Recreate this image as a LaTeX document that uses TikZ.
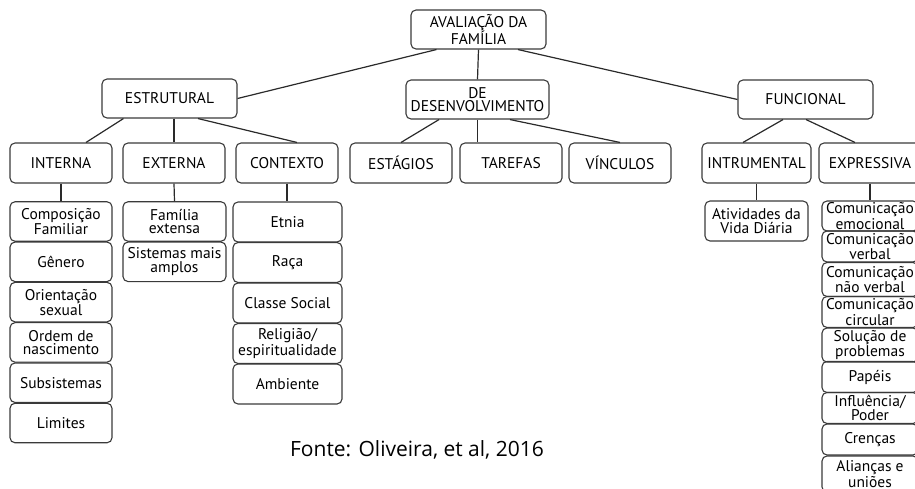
\documentclass[tikz,border=0pt]{standalone}
\usepackage{fontspec}
\setmainfont{PT Sans}
\newfontfamily\fontefont{Open Sans}
\definecolor{boxc}{HTML}{3A3A3A}
\definecolor{linec}{HTML}{2A2A2A}
\begin{document}
\begin{tikzpicture}[x=1pt,y=-1pt,
  box/.style={draw=boxc, line width=1.1pt, rounded corners=5pt, inner sep=0pt, align=center,
    font=\fontsize{15.5}{13.6}\selectfont},
  conn/.style={draw=linec, line width=1.2pt}]
\useasboundingbox (0,0) rectangle (915,488);
\clip (0,0) rectangle (915,488);
% level 1
\node[box, minimum width=135pt, minimum height=39pt] (aval) at (478.5,29.5) {AVALIAÇÃO DA\\FAMÍLIA};
% level 2
\node[box, minimum width=135pt, minimum height=39pt] (estr) at (169.5,98.5) {ESTRUTURAL};
\node[box, minimum width=143pt, minimum height=39pt] (desenv) at (477.5,99.5) {DE\\DESENVOLVIMENTO};
\node[box, minimum width=135pt, minimum height=39pt] (func) at (805.5,99.5) {FUNCIONAL};
% level 3
\node[box, minimum width=102pt, minimum height=40pt] (interna) at (61,163) {INTERNA};
\node[box, minimum width=102pt, minimum height=40pt] (externa) at (174,163) {EXTERNA};
\node[box, minimum width=102pt, minimum height=40pt] (contexto) at (287,163) {CONTEXTO};
\node[box, minimum width=102pt, minimum height=40pt] (estagios) at (401,163) {ESTÁGIOS};
\node[box, minimum width=102pt, minimum height=40pt] (tarefas) at (511,163) {TAREFAS};
\node[box, minimum width=102pt, minimum height=40pt] (vinculos) at (620,163) {VÍNCULOS};
\node[box, minimum width=109pt, minimum height=40pt] (intrum) at (756.5,163) {INTRUMENTAL};
\node[box, minimum width=102pt, minimum height=40pt] (express) at (870,163) {EXPRESSIVA};
% interna column
\begin{scope}[every node/.append style={box, minimum width=102pt, minimum height=39.5pt}]
\node (comp) at (61,221.5) {Composição\\Familiar};
\node (genero) at (61,261.8) {Gênero};
\node (orient) at (61,302.1) {Orientação\\sexual};
\node (ordem) at (61,342.4) {Ordem de\\nascimento};
\node (subs) at (61,382.7) {Subsistemas};
\node (limites) at (61,423) {Limites};
\end{scope}
% externa column
\begin{scope}[every node/.append style={box, minimum width=103pt, minimum height=39.5pt}]
\node (famext) at (174.5,221.5) {Família\\extensa};
\node (sistemas) at (174.5,261.8) {Sistemas mais\\amplos};
\end{scope}
% contexto column
\begin{scope}[every node/.append style={box, minimum width=109pt, minimum height=40pt}]
\node (etnia) at (287.5,222) {Etnia};
\node (raca) at (287.5,262.5) {Raça};
\node (classe) at (287.5,303) {Classe Social};
\node (relig) at (287.5,343.5) {Religião/\\espiritualidade};
\node (ambiente) at (287.5,384) {Ambiente};
\end{scope}
% instrumental column
\node[box, minimum width=103pt, minimum height=40pt] (ativ) at (756.5,221) {Atividades da\\Vida Diária};
% expressiva column
\begin{scope}[every node/.append style={box, minimum width=96pt}]
\node[minimum height=30pt] (com1) at (870,216) {Comunicação\\emocional};
\node[minimum height=31pt] (com2) at (870,246.5) {Comunicação\\verbal};
\node[minimum height=34pt] (com3) at (870,279.5) {Comunicação\\não verbal};
\node[minimum height=31pt] (com4) at (870,312) {Comunicação\\circular};
\node[minimum height=34pt] (solucao) at (870,345) {Solução de\\problemas};
\node[minimum height=31pt] (papeis) at (870,377) {Papéis};
\node[minimum height=31pt] (influencia) at (870,408) {Influência/\\Poder};
\node[minimum height=31pt] (crencas) at (870,439.5) {Crenças};
\node[minimum height=36pt] (aliancas) at (870,474) {Alianças e\\uniões};
\end{scope}
% source
\node[font=\fontefont\fontsize{21}{23}\selectfont, inner sep=0pt] (fonte) at (417,450) {Fonte: Oliveira, et al, 2016};
% connectors
\draw[conn] ([xshift=26pt]aval.south west) -- (estr.east);
\draw[conn] (aval.south) -- (desenv.north);
\draw[conn] ([xshift=39.5pt]aval.south) -- (func.west);
\draw[conn] ([xshift=22pt]estr.south west) -- ([xshift=25pt]interna.north);
\draw[conn] (estr.south -| externa.north) -- (externa.north);
\draw[conn] ([xshift=28.5pt]estr.south) -- ([xshift=10pt]contexto.north);
\draw[conn] ([xshift=-38.5pt]desenv.south) -- (estagios.north);
\draw[conn] (desenv.south) -- (desenv.south |- tarefas.north);
\draw[conn] ([xshift=32.5pt]desenv.south) -- (vinculos.north);
\draw[conn] ([xshift=-22.5pt]func.south) -- ([xshift=-13.5pt]intrum.north);
\draw[conn] ([xshift=0.5pt]func.south) -- ([xshift=-15pt]express.north);
\draw[conn] (interna.south) -- (comp.north);
\draw[conn] (externa.south) -- (famext.north);
\draw[conn] (contexto.south) -- (contexto.south |- etnia.north);
\draw[conn] (intrum.south) -- (ativ.north);
\draw[conn] (express.south) -- (com1.north);
\end{tikzpicture}
\end{document}
